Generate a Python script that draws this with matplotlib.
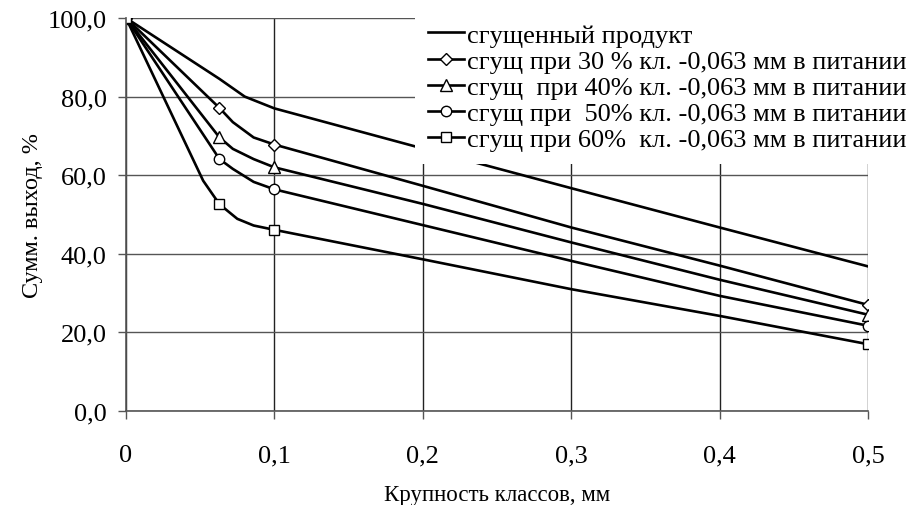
import matplotlib
matplotlib.use("Agg")
import matplotlib.pyplot as plt

plt.rcParams['font.family'] = ['Liberation Serif', 'DejaVu Serif']

# крупность классов, мм, и суммарный выход, %
x_prod = [0, 0.063, 0.08, 0.1, 0.2, 0.3, 0.4, 0.5]
y_prod = [100, 84.5, 80.0, 77.0, 66.8, 56.7, 46.7, 36.8]

x_mid = [0, 0.063, 0.072, 0.086, 0.1, 0.2, 0.3, 0.4, 0.5]
y_30 = [100, 77.1, 73.5, 69.6, 67.8, 57.3, 46.7, 37.0, 27.0]
y_40 = [100, 69.6, 66.7, 64.1, 62.0, 52.7, 42.9, 33.4, 24.5]
y_50 = [100, 64.1, 61.6, 58.3, 56.4, 47.3, 38.2, 29.3, 21.7]

x_60 = [0, 0.052, 0.063, 0.075, 0.086, 0.1, 0.2, 0.3, 0.4, 0.5]
y_60 = [100, 58.6, 52.6, 48.9, 47.2, 46.1, 38.6, 31.0, 24.2, 17.0]

labels = ["сгущенный продукт",
          "сгущ при 30 % кл. -0,063 мм в питании",
          "сгущ  при 40% кл. -0,063 мм в питании",
          "сгущ при  50% кл. -0,063 мм в питании",
          "сгущ при 60%  кл. -0,063 мм в питании"]

x_ticks = [0, 0.1, 0.2, 0.3, 0.4, 0.5]
x_ticklabels = ["0", "0,1", "0,2", "0,3", "0,4", "0,5"]
y_ticks = [0, 20, 40, 60, 80, 100]
y_ticklabels = ["0,0", "20,0", "40,0", "60,0", "80,0", "100,0"]

fig = plt.figure(figsize=(9.12, 5.06), dpi=100)
ax = fig.add_axes([126/912, 1-412/506, 742/912, 393/506])

lw = 1.9
mk = dict(markerfacecolor="white", markeredgecolor="black", markeredgewidth=1.0)
ax.plot(x_prod, y_prod, "-", color="black", lw=lw, label=labels[0])
ax.plot(x_mid, y_30, "-", color="black", lw=lw, marker="D", ms=6.5,
        markevery=[0, 1, 4, 8], label=labels[1], **mk)
ax.plot(x_mid, y_40, "-", color="black", lw=lw, marker="^", ms=8,
        markevery=[0, 1, 4, 8], label=labels[2], **mk)
ax.plot(x_mid, y_50, "-", color="black", lw=lw, marker="o", ms=7.5,
        markevery=[0, 1, 4, 8], label=labels[3], **mk)
ax.plot(x_60, y_60, "-", color="black", lw=lw, marker="s", ms=7.5,
        markevery=[0, 2, 5, 9], label=labels[4], **mk)

ax.set_xlim(0, 0.5)
ax.set_ylim(0, 100)
ax.set_xticks(x_ticks)
ax.set_xticklabels(x_ticklabels)
ax.set_yticks(y_ticks)
ax.set_yticklabels(y_ticklabels)
ax.tick_params(axis="both", labelsize=19, length=6, width=1, color="#555555")
ax.tick_params(axis="x", pad=18)
ax.tick_params(axis="y", pad=8)

for s in ["top", "right"]:
    ax.spines[s].set_visible(False)
for s in ["left", "bottom"]:
    ax.spines[s].set_color("#555555")
    ax.spines[s].set_linewidth(1.2)

ax.xaxis.grid(True, color="#222222", lw=1.0)
ax.yaxis.grid(True, color="#555555", lw=1.0)
ax.set_axisbelow(True)

ax.set_xlabel("Крупность классов, мм", fontsize=16.5, labelpad=13)
ax.set_ylabel("Сумм. выход, %", fontsize=17.5, labelpad=3)

leg = ax.legend(loc="upper left", bbox_to_anchor=(415/912, 1-11/506),
                bbox_transform=fig.transFigure, borderaxespad=0,
                fontsize=19, frameon=True, facecolor="white", edgecolor="none",
                framealpha=1, fancybox=False, borderpad=0.5,
                handlelength=1.36, handletextpad=0.1, labelspacing=0.1)
leg.set_zorder(5)

fig.savefig("out.png", dpi=100)
